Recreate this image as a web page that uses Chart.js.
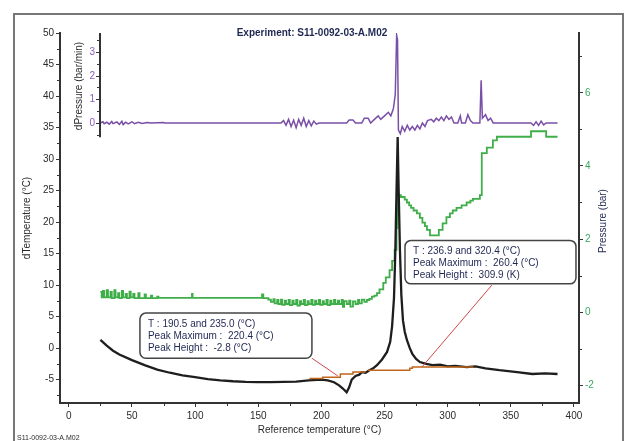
<!DOCTYPE html>
<html>
<head>
<meta charset="utf-8">
<script src="https://cdn.jsdelivr.net/npm/chart.js@4.4.1/dist/chart.umd.min.js"></script>
<style>
  html, body { margin: 0; padding: 0; background: #fff; }
</style>
</head>
<body>
<canvas id="dscChart" width="627" height="441"></canvas>
<script>
// dTemperature (black) vs reference temperature
const dtT = [25, 30, 35, 40, 50, 60, 70, 80, 90, 100, 110, 120, 130, 140, 150, 160, 170, 180, 190, 200,
  205, 210, 214, 217, 220, 222, 224, 227, 230, 232, 235, 238, 241, 244, 248, 252, 254.5, 256, 257.5, 258.5, 259.5,
  260.4, 261.2, 262.2, 263.3, 264.6, 266, 267.7, 270, 272, 275, 278, 283, 288, 294, 300, 306, 315, 322, 330,
  341, 355, 367, 377, 387];
const dtV = [1.3, 0.4, -0.4, -1.0, -1.9, -2.7, -3.4, -3.9, -4.3, -4.6, -4.9, -5.1, -5.25, -5.35, -5.4, -5.4, -5.35, -5.3, -5.1, -5.0,
  -5.1, -5.4, -5.9, -6.4, -7.0, -6.2, -5.0, -4.4, -4.2, -3.8, -3.9, -3.5, -3.2, -2.7, -1.8, -0.6, 1.0, 3.5, 8, 15, 25,
  33.5, 25, 15.6, 8.5, 4.4, 2.6, 1.3, 0.0, -0.9, -1.7, -2.2, -2.5, -2.7, -2.6, -2.9, -2.8, -3.0, -2.9, -3.2,
  -3.5, -3.8, -4.1, -4.0, -4.1];

// Pressure (green, bar)
const prT = [25, 26, 27, 28, 30, 31, 33, 34, 36, 37, 39, 40, 42, 43, 45, 46, 48, 49, 51, 52, 55, 56, 60, 61, 65, 66, 70, 71,
  97, 97.5, 98, 152, 153, 154, 158, 160, 162, 163, 165, 166, 168, 169, 171, 172, 174, 175, 177, 178, 180, 181, 183, 184,
  186, 187, 189, 190, 192, 193, 195, 196, 198, 199, 201, 202, 204, 205, 207, 208, 210, 211, 213, 214, 216, 217, 218,
  220, 222, 223, 225, 227, 229, 230, 232, 234, 236, 238, 240, 242, 244, 246, 249, 251, 254, 256, 258, 259.5, 260.3,
  263, 266, 267.7, 269.5, 271, 273, 275.6, 278, 280, 282, 283.6, 286, 290, 293, 296, 299, 301.8, 304, 307, 311, 315,
  318, 320, 325.5, 327, 331, 335.8, 339, 366, 378, 387];
const prV = [0.55, 0.4, 0.58, 0.4, 0.6, 0.4, 0.55, 0.38, 0.6, 0.4, 0.52, 0.38, 0.58, 0.4, 0.5, 0.38, 0.56, 0.4, 0.5, 0.38,
  0.52, 0.38, 0.48, 0.38, 0.45, 0.38, 0.42, 0.39, 0.39, 0.5, 0.39, 0.39, 0.48, 0.38, 0.34, 0.28, 0.35, 0.24, 0.33, 0.22,
  0.34, 0.2, 0.31, 0.22, 0.33, 0.19, 0.31, 0.22, 0.33, 0.18, 0.3, 0.22, 0.33, 0.19, 0.3, 0.22, 0.33, 0.2, 0.31, 0.22,
  0.33, 0.2, 0.3, 0.22, 0.33, 0.19, 0.31, 0.22, 0.33, 0.22, 0.31, 0.22, 0.33, 0.14, 0.3, 0.22, 0.31, 0.15, 0.29, 0.22,
  0.33, 0.24, 0.34, 0.28, 0.33, 0.36, 0.42, 0.45, 0.52, 0.62, 0.8, 0.95, 1.15, 1.4, 1.7, 2.3, 3.2,
  3.15, 3.08, 3.0, 2.92, 2.85, 2.78, 2.7, 2.58, 2.45, 2.35, 2.25, 2.1, 2.1, 2.25, 2.43, 2.6, 2.7, 2.78, 2.85, 2.92, 3.0,
  3.05, 3.1, 3.2, 4.35, 4.5, 4.7, 4.8, 4.95, 4.8, 4.8];

// dPressure (purple, bar/min)
const dpT = [25, 27, 28, 30, 32, 34, 35, 38, 40, 42, 43, 45, 47, 50, 52, 55, 58, 62, 65, 75, 76, 84,
  168, 170, 172, 174, 176, 178, 180, 182, 184, 186, 188, 190, 192, 194, 196, 198, 220, 222, 225, 227, 232, 234, 237,
  239, 242, 245, 247, 250, 253, 255, 257, 258.5, 259.6, 260.3, 261, 262.5, 264, 266, 268, 270, 272, 274, 276, 278,
  280, 282, 284, 287, 289, 291, 293, 295, 297, 299, 301, 303, 305, 308, 310, 311, 314, 316, 318, 320, 325.5, 326.5,
  327.5, 330, 332, 334, 336, 366, 368, 370, 372, 374, 376, 378, 387];
const dpV = [0, 0.05, -0.03, 0.03, -0.05, 0.06, -0.03, 0.04, -0.06, 0.07, -0.07, 0.03, -0.04, 0.05, -0.03, 0.03, -0.02, 0.02, 0, 0.02, 0, 0,
  0, 0.1, -0.1, 0.15, -0.15, 0.12, -0.2, 0.15, -0.1, 0.2, -0.15, 0.1, -0.12, 0.08, -0.05, 0, 0, 0.12, 0.12, 0, 0, 0.2, 0.2,
  0, 0.15, 0.3, 0.15, 0.3, 0.45, 0.3, 0.6, 1.2, 3.7, 3.5, -0.3, -0.45, -0.15, -0.35, -0.1, -0.3, -0.15, -0.3, -0.1, -0.25,
  0, -0.15, 0.1, 0.15, 0.05, 0.2, 0.1, 0.25, 0.1, 0.3, 0.15, 0.25, 0, 0, 0.3, 0, 0, 0.35, 0.1, 0, 0, 1.8,
  0.2, 0.35, 0.1, 0.2, 0, 0, -0.1, 0.05, -0.1, 0.08, -0.08, 0, 0];

// integration baselines (orange), null splits the two peaks
const baseT = [190.5, 201, 215, 225, 235, 236, 236.9, 240, 270, 272, 320.4];
const baseV = [-4.8, -4.6, -4.1, -3.8, -3.8, null, -3.5, -3.5, -3.2, -3.0, -3.0];

// connector lines from the result boxes to the curve
const link1T = [192.5, 213];
const link1V = [-1.6, -4.4];
const link2T = [335, 279.6];
const link2V = [10.0, -3.0];

// tick labels
const xTicks = [0, 50, 100, 150, 200, 250, 300, 350, 400];
const xMinor = [25, 75, 125, 175, 225, 275, 325, 375];
const yTicks = [-5, 0, 5, 10, 15, 20, 25, 30, 35, 40, 45, 50];
const yMinor = [-7.5, -2.5, 2.5, 7.5, 12.5, 17.5, 22.5, 27.5, 32.5, 37.5, 42.5, 47.5];
const y2Ticks = [-2, 0, 2, 4, 6];
const y2Minor = [-1, 1, 3, 5, 7];
const y3Ticks = [0, 1, 2, 3];
const y3Minor = [-0.5, 0.5, 1.5, 2.5, 3.5];

const note1 = ['T : 190.5 and 235.0 (°C)', 'Peak Maximum :  220.4 (°C)', 'Peak Height :  -2.8 (°C)'];
const note2 = ['T : 236.9 and 320.4 (°C)', 'Peak Maximum :  260.4 (°C)', 'Peak Height :  309.9 (K)'];

const pts = (xs, ys) => xs.map((v, i) => ({ x: v, y: ys[i] }));

Chart.defaults.font.family = "'Liberation Sans', Arial, sans-serif";
Chart.defaults.font.size = 10;

const ink = '#2b2b2b';
const navy = '#1f2753';

function line(ctx, x1, y1, x2, y2) {
  ctx.beginPath();
  ctx.moveTo(x1, y1);
  ctx.lineTo(x2, y2);
  ctx.stroke();
}

function drawNote(ctx, sx, sy, box, lines) {
  const left = sx.getPixelForValue(box.x0), right = sx.getPixelForValue(box.x1);
  const top = sy.getPixelForValue(box.y0), bottom = sy.getPixelForValue(box.y1);
  ctx.fillStyle = '#fff';
  ctx.strokeStyle = '#444';
  ctx.lineWidth = 1.5;
  ctx.beginPath();
  ctx.roundRect(left, top, right - left, bottom - top, 6);
  ctx.fill();
  ctx.stroke();
  ctx.fillStyle = navy;
  ctx.font = "10px 'Liberation Sans', Arial, sans-serif";
  ctx.textAlign = 'left';
  ctx.textBaseline = 'middle';
  lines.forEach((t, i) => ctx.fillText(t, left + 8, top + 11 + i * 12));
}

const decor = {
  id: 'decor',
  beforeDraw(chart) {
    const ctx = chart.ctx;
    ctx.save();
    ctx.fillStyle = '#fff';
    ctx.fillRect(0, 0, chart.width, chart.height);
    ctx.restore();
  },
  afterDraw(chart) {
    const { ctx, chartArea: area } = chart;
    const { x, y, y2, y3 } = chart.scales;
    ctx.save();

    // outer frame
    ctx.strokeStyle = '#777';
    ctx.lineWidth = 2;
    ctx.strokeRect(14, 14, 609, 440);

    // minor ticks
    ctx.strokeStyle = '#333';
    ctx.lineWidth = 1;
    xMinor.forEach(v => { const p = Math.round(x.getPixelForValue(v)) + 0.5; line(ctx, p, area.bottom, p, area.bottom + 3); });
    yMinor.forEach(v => { const p = Math.round(y.getPixelForValue(v)) + 0.5; line(ctx, area.left - 3, p, area.left, p); });
    y2Minor.forEach(v => { const p = Math.round(y2.getPixelForValue(v)) + 0.5; line(ctx, area.right, p, area.right + 3, p); });

    // inset dPressure axis
    const ax = Math.round(x.getPixelForValue(24.5));
    ctx.lineWidth = 2;
    line(ctx, ax, y3.getPixelForValue(3.8), ax, y3.getPixelForValue(-0.6));
    ctx.lineWidth = 1;
    y3Minor.forEach(v => { const p = Math.round(y3.getPixelForValue(v)) + 0.5; line(ctx, ax - 3, p, ax, p); });
    ctx.fillStyle = '#8a5cc0';
    ctx.font = "10px 'Liberation Sans', Arial, sans-serif";
    ctx.textAlign = 'right';
    ctx.textBaseline = 'middle';
    y3Ticks.forEach(v => {
      const p = Math.round(y3.getPixelForValue(v)) + 0.5;
      line(ctx, ax - 4, p, ax, p);
      ctx.fillText(String(v), ax - 5, p);
    });

    // titles
    ctx.fillStyle = navy;
    ctx.textAlign = 'center';
    ctx.font = "bold 10px 'Liberation Sans', Arial, sans-serif";
    ctx.fillText('Experiment: S11-0092-03-A.M02', 312, 33);

    ctx.fillStyle = ink;
    ctx.font = "10px 'Liberation Sans', Arial, sans-serif";
    ctx.fillText('Reference temperature (°C)', (area.left + area.right) / 2, 430);

    const rotText = (t, px, py) => {
      ctx.save();
      ctx.translate(px, py);
      ctx.rotate(-Math.PI / 2);
      ctx.fillText(t, 0, 0);
      ctx.restore();
    };
    rotText('dTemperature (°C)', 27, (area.top + area.bottom) / 2);
    rotText('dPressure (bar/min)', 79, 86);
    ctx.fillStyle = navy;
    rotText('Pressure (bar)', 603, 221);

    ctx.fillStyle = ink;
    ctx.textAlign = 'left';
    ctx.font = "7px 'Liberation Sans', Arial, sans-serif";
    ctx.fillText('S11-0092-03-A.M02', 17, 438);

    // result boxes
    drawNote(ctx, x, y, { x0: 56.3, x1: 192.5, y0: 5.56, y1: -1.6 }, note1);
    drawNote(ctx, x, y, { x0: 266.2, x1: 401.6, y0: 17.1, y1: 10.2 }, note2);

    ctx.restore();
  }
};

const tickFont = { size: 10 };
const setTicks = list => scale => { scale.ticks = list.map(v => ({ value: v })); };

new Chart(document.getElementById('dscChart'), {
  type: 'line',
  data: {
    datasets: [
      { data: pts(link1T, link1V), borderColor: '#d04848', borderWidth: 1, yAxisID: 'y' },
      { data: pts(link2T, link2V), borderColor: '#d04848', borderWidth: 1, yAxisID: 'y' },
      { data: pts(baseT, baseV), borderColor: '#c0651a', borderWidth: 1.5, stepped: true, spanGaps: false, yAxisID: 'y' },
      { data: pts(dtT, dtV), borderColor: '#1e1e1e', borderWidth: 2.3, yAxisID: 'y' },
      { data: pts(dpT, dpV), borderColor: '#7a4fa6', borderWidth: 1.5, yAxisID: 'y3' },
      { data: pts(prT, prV), borderColor: '#3fae49', borderWidth: 1.8, stepped: true, yAxisID: 'y2' }
    ]
  },
  options: {
    responsive: false,
    animation: false,
    events: [],
    layout: { padding: { top: 33, left: 0, right: 0, bottom: 0 } },
    elements: { point: { radius: 0 }, line: { tension: 0, fill: false } },
    plugins: { legend: { display: false }, tooltip: { enabled: false }, title: { display: false } },
    scales: {
      x: {
        type: 'linear', min: -7, max: 404,
        afterBuildTicks: setTicks(xTicks),
        afterFit: s => { s.height = 38; },
        grid: { drawOnChartArea: false, tickLength: 4, color: '#333' },
        border: { color: '#333', width: 2 },
        ticks: { color: ink, font: tickFont, padding: 3, maxRotation: 0, autoSkip: false }
      },
      y: {
        type: 'linear', position: 'left', min: -8.7, max: 50,
        afterBuildTicks: setTicks(yTicks),
        afterFit: s => { s.width = 60; },
        grid: { drawOnChartArea: false, tickLength: 4, color: '#333' },
        border: { color: '#333', width: 2 },
        ticks: { color: ink, font: tickFont, padding: 2, autoSkip: false }
      },
      y2: {
        type: 'linear', position: 'right', min: -2.49, max: 7.64,
        afterBuildTicks: setTicks(y2Ticks),
        afterFit: s => { s.width = 48; },
        grid: { drawOnChartArea: false, tickLength: 4, color: '#333' },
        border: { color: '#333', width: 2 },
        ticks: { color: '#3aa860', font: tickFont, padding: 2, autoSkip: false }
      },
      y3: {
        type: 'linear', display: false, min: -11.83, max: 3.8
      }
    }
  },
  plugins: [decor]
});
</script>
</body>
</html>
